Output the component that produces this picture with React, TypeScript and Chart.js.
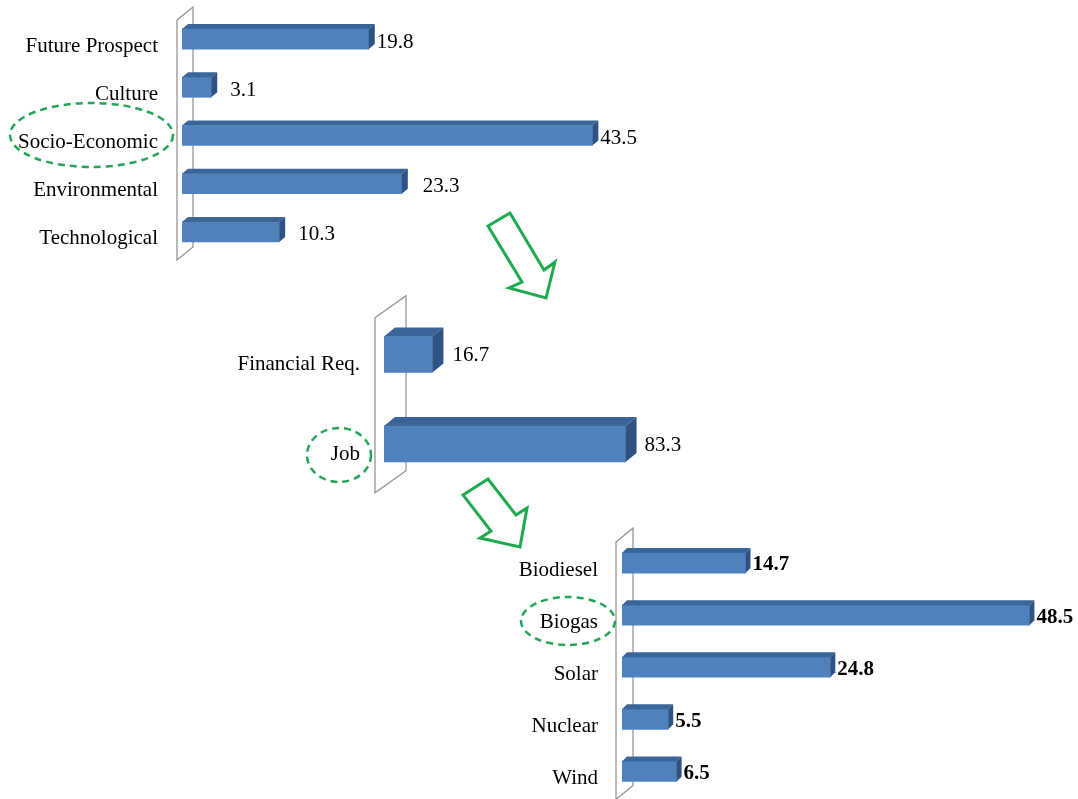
import React, { useEffect, useRef } from "react";
import { Chart, registerables } from "chart.js";

Chart.register(...registerables);

// ---------- DATA ----------
const criteriaLabels = ["Future Prospect", "Culture", "Socio-Economic", "Environmental", "Technological"];
const criteriaValues = [19.8, 3.1, 43.5, 23.3, 10.3];

const subCriteriaLabels = ["Financial Req.", "Job"];
const subCriteriaValues = [16.7, 83.3];

const alternativeLabels = ["Biodiesel", "Biogas", "Solar", "Nuclear", "Wind"];
const alternativeValues = [14.7, 48.5, 24.8, 5.5, 6.5];

// ---------- STYLE ----------
const FONT = '"Liberation Serif", "Times New Roman", serif';
const FONT_SIZE = 21;
const FRONT = "#4F81BD";
const TOP = "#3B6598";
const SIDE = "#2E5383";
const WALL = "#8E8E8E";
const GREEN_DASH = "#22A556";
const GREEN_ARROW = "#1FA94E";

type PanelCfg = {
  labels: string[];
  values: number[];
  left: number;
  top: number;
  width: number;
  height: number;
  axisWidth: number;
  padding: { left: number; top: number; right: number; bottom: number };
  xMax: number;
  barThickness: number;
  depth: { dx: number; dy: number };
  wall: { inset: number; dx: number; dy: number; topExt: number; bottomExt: number };
  labelOffset: number;
  valueGaps: number[];
  valueDy: number;
  valueBold: boolean;
};

const panels: PanelCfg[] = [
  {
    labels: criteriaLabels,
    values: criteriaValues,
    left: 0,
    top: 0,
    width: 760,
    height: 275,
    axisWidth: 182,
    padding: { left: 0, top: 15, right: 12, bottom: 19 },
    xMax: 60,
    barThickness: 20,
    depth: { dx: 6, dy: -5 },
    wall: { inset: 5, dx: 16, dy: -13, topExt: 5, bottomExt: 4 },
    labelOffset: 7,
    valueGaps: [2, 13, 2, 15, 13],
    valueDy: 3,
    valueBold: false,
  },
  {
    labels: subCriteriaLabels,
    values: subCriteriaValues,
    left: 200,
    top: 290,
    width: 500,
    height: 210,
    axisWidth: 184,
    padding: { left: 0, top: 19.75, right: 26, bottom: 11.25 },
    xMax: 100,
    barThickness: 36,
    depth: { dx: 11, dy: -9 },
    wall: { inset: 9, dx: 31, dy: -22, topExt: 8, bottomExt: 4 },
    labelOffset: 10,
    valueGaps: [9, 8],
    valueDy: 1,
    valueBold: false,
  },
  {
    labels: alternativeLabels,
    values: alternativeValues,
    left: 400,
    top: 520,
    width: 678,
    height: 279,
    axisWidth: 222,
    padding: { left: 0, top: 17, right: 2.4, bottom: 1.5 },
    xMax: 54,
    barThickness: 20,
    depth: { dx: 5, dy: -5 },
    wall: { inset: 6, dx: 17, dy: -14, topExt: 5, bottomExt: 2 },
    labelOffset: 7,
    valueGaps: [2, 2, 2, 2, 2],
    valueDy: 2,
    valueBold: true,
  },
];

function make3dPlugin(cfg: PanelCfg) {
  return {
    id: "bar3d",
    beforeDatasetsDraw(chart: any) {
      const { ctx, chartArea: a } = chart;
      const w = cfg.wall;
      const x0 = a.left - w.inset;
      ctx.save();
      ctx.beginPath();
      ctx.moveTo(x0, a.top + w.topExt);
      ctx.lineTo(x0 + w.dx, a.top + w.topExt + w.dy);
      ctx.lineTo(x0 + w.dx, a.bottom + w.bottomExt + w.dy);
      ctx.lineTo(x0, a.bottom + w.bottomExt);
      ctx.closePath();
      ctx.fillStyle = "#ffffff";
      ctx.fill();
      ctx.strokeStyle = WALL;
      ctx.lineWidth = 1.2;
      ctx.stroke();
      ctx.restore();
    },
    afterDatasetsDraw(chart: any) {
      const ctx = chart.ctx;
      const meta = chart.getDatasetMeta(0);
      const { dx, dy } = cfg.depth;
      ctx.save();
      meta.data.forEach((el: any, i: number) => {
        const { x, y, base, height } = el.getProps(["x", "y", "base", "height"], true);
        const t = y - height / 2;
        const b = y + height / 2;
        // top face
        ctx.beginPath();
        ctx.moveTo(base, t);
        ctx.lineTo(base + dx, t + dy);
        ctx.lineTo(x + dx, t + dy);
        ctx.lineTo(x, t);
        ctx.closePath();
        ctx.fillStyle = TOP;
        ctx.fill();
        // side face
        ctx.beginPath();
        ctx.moveTo(x, t);
        ctx.lineTo(x + dx, t + dy);
        ctx.lineTo(x + dx, b + dy);
        ctx.lineTo(x, b);
        ctx.closePath();
        ctx.fillStyle = SIDE;
        ctx.fill();
        // value label
        ctx.fillStyle = "#000";
        ctx.font = `${cfg.valueBold ? "bold " : ""}${FONT_SIZE}px ${FONT}`;
        ctx.textAlign = "left";
        ctx.textBaseline = "middle";
        ctx.fillText(cfg.values[i].toFixed(1), x + dx + cfg.valueGaps[i], y + cfg.valueDy);
      });
      ctx.restore();
    },
  };
}

function Panel({ cfg }: { cfg: PanelCfg }) {
  const ref = useRef<HTMLCanvasElement>(null);
  useEffect(() => {
    const chart = new Chart(ref.current as HTMLCanvasElement, {
      type: "bar",
      data: {
        labels: cfg.labels,
        datasets: [
          {
            data: cfg.values,
            backgroundColor: FRONT,
            borderWidth: 0,
            barThickness: cfg.barThickness,
          },
        ],
      },
      options: {
        indexAxis: "y",
        responsive: false,
        animation: false,
        devicePixelRatio: 1,
        layout: { padding: cfg.padding },
        plugins: {
          legend: { display: false },
          tooltip: { enabled: false },
        },
        scales: {
          x: { display: false, min: 0, max: cfg.xMax },
          y: {
            type: "category",
            grid: { display: false, drawTicks: false },
            border: { display: false },
            ticks: {
              color: "#000",
              font: { family: FONT, size: FONT_SIZE },
              padding: 24,
              labelOffset: cfg.labelOffset,
            },
            afterFit: (scale: any) => {
              scale.width = cfg.axisWidth;
              scale.paddingTop = 0;
              scale.paddingBottom = 0;
            },
          },
        },
      },
      plugins: [make3dPlugin(cfg) as any],
    } as any);
    return () => chart.destroy();
  }, []);
  return (
    <canvas
      ref={ref}
      width={cfg.width}
      height={cfg.height}
      style={{ position: "absolute", left: cfg.left, top: cfg.top, width: cfg.width, height: cfg.height }}
    />
  );
}

const arrowShapes = [
  "488,226 510,213 544,270 555,262 546,298 509,288 522,282",
  "463,495 488,479 516,515 527,508 520,547 480,538 491,531",
];

const highlightEllipses = [
  { cx: 91.5, cy: 135, rx: 81.5, ry: 32 },
  { cx: 339, cy: 455, rx: 32, ry: 27 },
  { cx: 568, cy: 621, rx: 47, ry: 24 },
];

export default function App() {
  return (
    <div
      style={{
        position: "absolute",
        left: 0,
        top: 0,
        width: 1078,
        height: 799,
        background: "#ffffff",
        overflow: "hidden",
      }}
    >
      {panels.map((p, i) => (
        <Panel key={i} cfg={p} />
      ))}
      <svg
        width={1078}
        height={799}
        style={{ position: "absolute", left: 0, top: 0, pointerEvents: "none" }}
      >
        {arrowShapes.map((pts, i) => (
          <polygon key={i} points={pts} fill="none" stroke={GREEN_ARROW} strokeWidth={3} strokeLinejoin="miter" />
        ))}
        {highlightEllipses.map((e, i) => (
          <ellipse
            key={i}
            cx={e.cx}
            cy={e.cy}
            rx={e.rx}
            ry={e.ry}
            fill="none"
            stroke={GREEN_DASH}
            strokeWidth={2.5}
            strokeDasharray="7 5"
          />
        ))}
      </svg>
    </div>
  );
}
